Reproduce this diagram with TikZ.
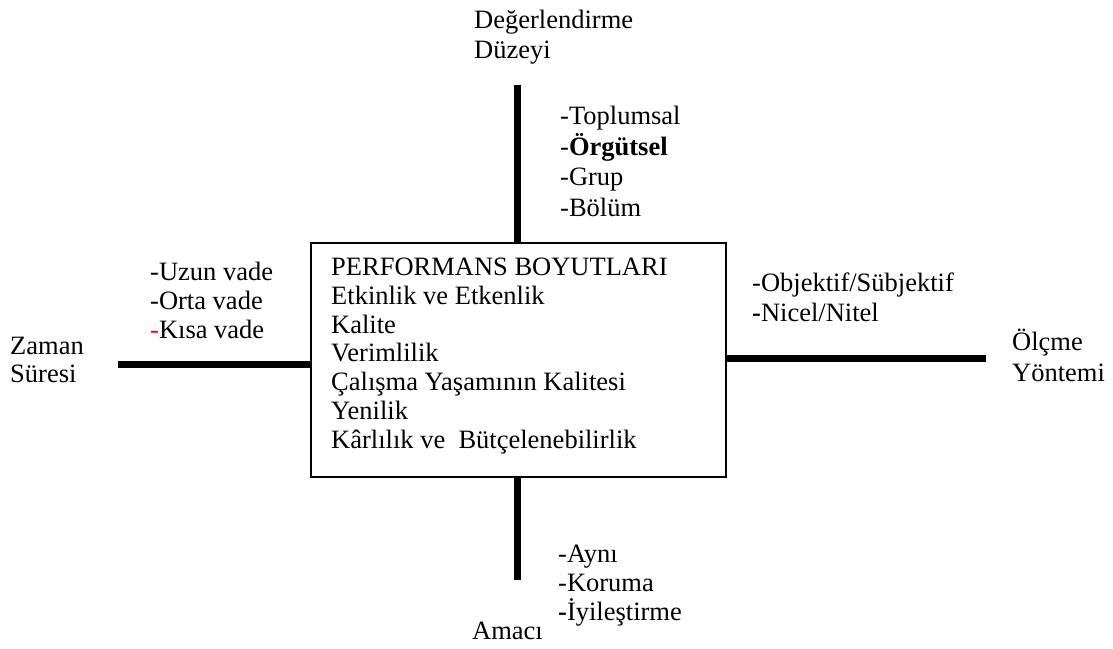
\documentclass[tikz,border=0pt]{standalone}
\usepackage{fontspec}
\setmainfont{Liberation Serif}
\begin{document}
\begin{tikzpicture}[x=1pt,y=-1pt,
  lbl/.style={anchor=base west,inner sep=0pt,align=left,font=\fontsize{26.5}{#1}\selectfont},
  lbl/.default=29,
  axis/.style={line width=7pt},
  dimbox/.style={draw,line width=2pt,minimum width=415pt,minimum height=234pt,inner sep=0pt,anchor=north west}]
\useasboundingbox (0,0) rectangle (1113,648);

% central box with the performance dimensions (multi-line nodes sit on their last baseline)
\node[dimbox] (box) at (310,242) {};
\node[lbl=28.7] (dims) at (331,448) {PERFORMANS BOYUTLARI\\Etkinlik ve Etkenlik\\Kalite\\Verimlilik\\Çalışma Yaşamının Kalitesi\\Yenilik\\Kârlılık ve\ \ Bütçelenebilirlik};

% axis ends
\coordinate (topend) at (517,85);
\coordinate (botend) at (517,580);
\coordinate (leftend) at (118,364);
\coordinate (rightend) at (986,358);

\draw[axis] (topend) -- (topend |- box.north);
\draw[axis] (botend) -- (botend |- box.south);
\draw[axis] (leftend) -- (leftend -| box.west);
\draw[axis] (rightend) -- (rightend -| box.east);

% axis titles
\node[lbl=30] (ttop) at (474,58) {Değerlendirme\\Düzeyi};
\node[lbl=28] (tleft) at (10,382) {Zaman\\Süresi};
\node[lbl=31] (tright) at (1012,381) {Ölçme\\Yöntemi};
\node[lbl] (tbot) at (472,639) {Amacı};

% axis items
\node[lbl=30.5] (itop) at (560,216) {-Toplumsal\\-\textbf{Örgütsel}\\-Grup\\-Bölüm};
\node[lbl=29] (ileft) at (150,338) {-Uzun vade\\-Orta vade\\\textcolor{red}{-}Kısa vade};
\node[lbl=30] (iright) at (752,321) {-Objektif/Sübjektif\\\textbf{-}Nicel/Nitel};
\node[lbl=29] (ibot) at (558,620) {-Aynı\\-Koruma\\\textbf{-}İyileştirme};
\end{tikzpicture}
\end{document}
